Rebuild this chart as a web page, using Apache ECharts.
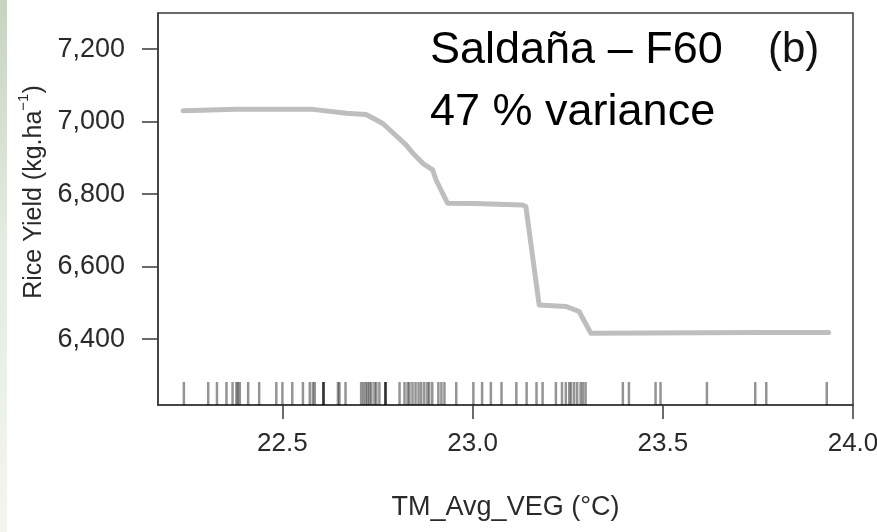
<!DOCTYPE html>
<html>
<head>
<meta charset="utf-8">
<title>Rice yield partial dependence</title>
<script src="https://cdn.jsdelivr.net/npm/echarts@6/dist/echarts.min.js"></script>
<style>
  html, body { margin: 0; padding: 0; background: #ffffff; }
  #chart { width: 877px; height: 532px; }
</style>
</head>
<body>
<div id="chart"></div>
<script>
// Partial dependence curve: mean temperature in the vegetative phase vs. rice yield
const curveTemps = [22.239, 22.379, 22.580, 22.668, 22.720, 22.764, 22.825, 22.843, 22.869, 22.895, 22.904, 22.934, 23.004, 23.131, 23.140, 23.175, 23.245, 23.280, 23.311, 23.752, 23.936];
const curveYield = [7030, 7034, 7034, 7023, 7020, 6995, 6936, 6913, 6885, 6867, 6839, 6775, 6774, 6770, 6766, 6494, 6490, 6476, 6416, 6418, 6418];

// Observed temperatures drawn as a rug along the bottom axis
const rugTemps = [
  22.241, 22.305, 22.328, 22.353, 22.369, 22.379, 22.383, 22.388, 22.410, 22.439,
  22.484, 22.500, 22.526, 22.554, 22.572, 22.580, 22.585, 22.608, 22.608, 22.608,
  22.646, 22.650, 22.666, 22.707, 22.713, 22.719, 22.724, 22.729, 22.734, 22.742,
  22.747, 22.755, 22.771, 22.771, 22.771, 22.808, 22.821, 22.829, 22.834, 22.842,
  22.850, 22.858, 22.865, 22.873, 22.881, 22.886, 22.894, 22.910, 22.918, 22.926,
  22.957, 23.002, 23.025, 23.048, 23.076, 23.115, 23.142, 23.168, 23.184, 23.219,
  23.235, 23.245, 23.254, 23.259, 23.267, 23.275, 23.284, 23.290, 23.297, 23.395,
  23.411, 23.481, 23.494, 23.616, 23.743, 23.772, 23.931
];

const xTicks = [22.5, 23.0, 23.5, 24.0];
const yTicks = [6400, 6600, 6800, 7000, 7200];
const xRange = [22.173, 24.0];
const yRange = [6218, 7300];

const titleLines = ['Saldaña – F60', '47 % variance'];
const panelTag = '(b)';

const FONT = '"Liberation Sans", Arial, Helvetica, sans-serif';
const chart = echarts.init(document.getElementById('chart'), null, { renderer: 'canvas' });

chart.setOption({
  backgroundColor: '#ffffff',
  animation: false,
  graphic: [
    {
      type: 'rect', left: 0, top: 0, z: -10,
      shape: { width: 7, height: 532 },
      style: {
        fill: new echarts.graphic.LinearGradient(0, 0, 0, 1, [
          { offset: 0, color: '#c6d4bf' },
          { offset: 0.45, color: '#e4ebe0' },
          { offset: 1, color: '#f3f6f0' }
        ])
      }
    },
    {
      type: 'text', left: 430, top: 28,
      style: { text: titleLines[0], font: '45px ' + FONT, fill: '#000' }
    },
    {
      type: 'text', left: 430, top: 90,
      style: { text: titleLines[1], font: '45px ' + FONT, fill: '#000' }
    },
    {
      type: 'text', left: 768, top: 29,
      style: { text: panelTag, font: '42px ' + FONT, fill: '#111' }
    }
  ],
  grid: {
    left: 158, top: 13, right: 24, bottom: 127,
    outerBoundsMode: 'none',
    containLabel: false,
    show: true, borderColor: '#3a3a3a', borderWidth: 1.5, backgroundColor: 'transparent'
  },
  xAxis: {
    type: 'value',
    min: xRange[0], max: xRange[1],
    name: 'TM_Avg_VEG (°C)',
    nameLocation: 'middle',
    nameGap: 89,
    nameTextStyle: { fontFamily: FONT, fontSize: 27, color: '#2a2a2a' },
    axisLine: { show: true, onZero: false, lineStyle: { color: '#3a3a3a', width: 1.5 } },
    axisTick: { show: true, length: 14, customValues: xTicks, lineStyle: { color: '#3a3a3a', width: 1.5 } },
    axisLabel: {
      customValues: xTicks, margin: 26,
      fontFamily: FONT, fontSize: 26, color: '#2a2a2a',
      formatter: v => v.toFixed(1)
    },
    splitLine: { show: false }
  },
  yAxis: {
    type: 'value',
    min: yRange[0], max: yRange[1],
    name: '{n|Rice Yield (kg.ha}{s|−1}{n|)}',
    nameLocation: 'middle',
    nameGap: 108,
    nameTextStyle: {
      padding: [0, 0, 0, 34],
      rich: {
        n: { fontFamily: FONT, fontSize: 25, color: '#2a2a2a', lineHeight: 30, verticalAlign: 'bottom' },
        s: { fontFamily: FONT, fontSize: 15, color: '#2a2a2a', lineHeight: 30, verticalAlign: 'top' }
      }
    },
    axisLine: { show: true, onZero: false, lineStyle: { color: '#3a3a3a', width: 1.5 } },
    axisTick: { show: true, length: 16, customValues: yTicks, lineStyle: { color: '#3a3a3a', width: 1.5 } },
    axisLabel: {
      customValues: yTicks, margin: 33,
      fontFamily: FONT, fontSize: 27, color: '#2a2a2a',
      formatter: v => v.toLocaleString('en-US')
    },
    splitLine: { show: false }
  },
  series: [
    {
      type: 'line',
      data: curveTemps.map((t, i) => [t, curveYield[i]]),
      showSymbol: false,
      lineStyle: { color: '#bebebe', width: 5, join: 'round', cap: 'round' },
      z: 3
    },
    {
      type: 'custom',
      data: rugTemps.map(t => [t]),
      renderItem: (params, api) => {
        const base = api.coord([api.value(0), yRange[0]]);
        return {
          type: 'line',
          shape: { x1: base[0], y1: base[1], x2: base[0], y2: base[1] - 23 },
          style: { stroke: 'rgba(0,0,0,0.42)', lineWidth: 2.5 }
        };
      },
      z: 2
    }
  ]
});
</script>
</body>
</html>
